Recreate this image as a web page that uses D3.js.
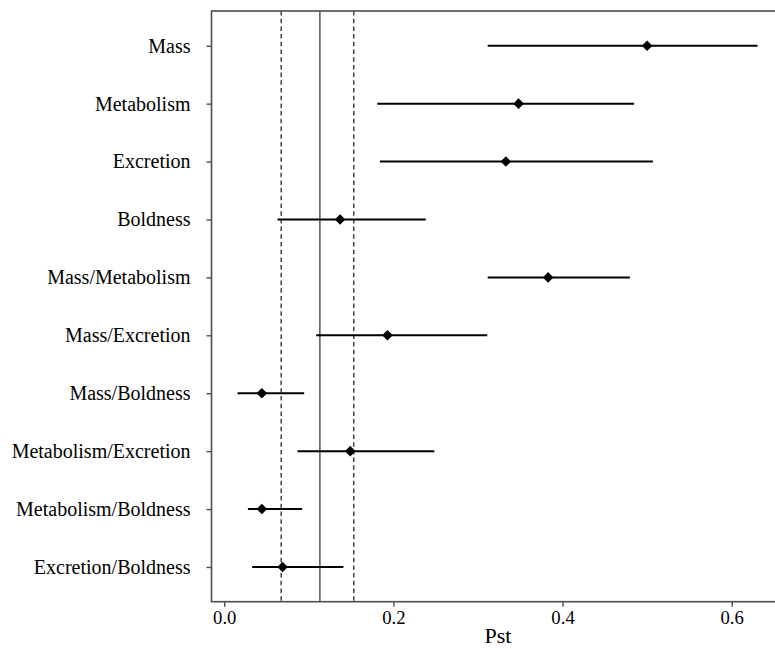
<!DOCTYPE html>
<html>
<head>
<meta charset="utf-8">
<script src="https://cdn.jsdelivr.net/npm/d3@7"></script>
<style>
  html, body { margin: 0; padding: 0; background: #fff; }
  svg { display: block; }
</style>
</head>
<body>
<script>
const traits = ["Mass", "Metabolism", "Excretion", "Boldness", "Mass/Metabolism",
  "Mass/Excretion", "Mass/Boldness", "Metabolism/Excretion", "Metabolism/Boldness", "Excretion/Boldness"];
const pst   = [0.500, 0.348, 0.333, 0.137, 0.383, 0.193, 0.0445, 0.149, 0.0445, 0.069];
const lower = [0.3115, 0.181, 0.184, 0.063, 0.3115, 0.1087, 0.0157, 0.0866, 0.028, 0.0331];
const upper = [0.6305, 0.4847, 0.5068, 0.2383, 0.4796, 0.311, 0.0945, 0.2485, 0.0921, 0.1409];
const fstMean = [0.1131];
const fstCI = [0.0673, 0.1532];
const xTicks = [0.0, 0.2, 0.4, 0.6];

const W = 775, H = 649;
const mLeft = 211.5, mTop = 11, mBottom = 601.7;
const lo = d3.min(lower), hi = d3.max(upper);
const pad = (hi - lo) * 0.05;

const svg = d3.select("body").append("svg").attr("width", W).attr("height", H);

const x = d3.scaleLinear().domain([lo - pad, hi + pad]).range([mLeft, mLeft + 572]);
const y = d3.scalePoint().domain(traits).range([mTop, mBottom]).padding(0.6);

const font = "'Liberation Serif', 'Times New Roman', serif";

// vertical reference lines
svg.selectAll("line.ci").data(fstCI).enter().append("line")
  .attr("x1", d => x(d)).attr("x2", d => x(d))
  .attr("y1", mTop).attr("y2", mBottom)
  .attr("stroke", "#000").attr("stroke-width", 1.1)
  .attr("stroke-dasharray", "4.5,3.2");
svg.selectAll("line.mean").data(fstMean).enter().append("line")
  .attr("x1", d => x(d)).attr("x2", d => x(d))
  .attr("y1", mTop).attr("y2", mBottom)
  .attr("stroke", "#555").attr("stroke-width", 1.5);

// error bars
const rows = traits.map((t, i) => ({t, p: pst[i], l: lower[i], u: upper[i]}));
svg.selectAll("line.err").data(rows).enter().append("line")
  .attr("x1", d => x(d.l)).attr("x2", d => x(d.u))
  .attr("y1", d => y(d.t)).attr("y2", d => y(d.t))
  .attr("stroke", "#000").attr("stroke-width", 2);

// diamonds
const diamond = d3.symbol().type(d3.symbolSquare).size(56);
svg.selectAll("path.pt").data(rows).enter().append("path")
  .attr("d", diamond)
  .attr("transform", d => `translate(${x(d.p)},${y(d.t)}) rotate(45)`)
  .attr("fill", "#000");

// panel frame (right side falls outside the image)
svg.append("rect")
  .attr("x", mLeft).attr("y", mTop)
  .attr("width", x.range()[1] - mLeft).attr("height", mBottom - mTop)
  .attr("fill", "none").attr("stroke", "#4d4d4d").attr("stroke-width", 1.6);

// x axis
const xAxis = svg.append("g").attr("transform", `translate(0,${mBottom})`)
  .call(d3.axisBottom(x).tickValues(xTicks).tickFormat(d3.format(".1f")).tickSize(5).tickPadding(4));
xAxis.select(".domain").remove();
xAxis.selectAll("line").attr("stroke", "#4d4d4d").attr("stroke-width", 1.4);
xAxis.selectAll("text").attr("font-family", font).attr("font-size", "18.7px").attr("fill", "#000");

// y axis
const yAxis = svg.append("g").attr("transform", `translate(${mLeft},0)`)
  .call(d3.axisLeft(y).tickSize(5).tickPadding(16));
yAxis.select(".domain").remove();
yAxis.selectAll("line").attr("stroke", "#4d4d4d").attr("stroke-width", 1.4);
yAxis.selectAll("text").attr("font-family", font).attr("font-size", "20px").attr("fill", "#000");

// x title
svg.append("text")
  .attr("x", (x(0) + x(0.6)) / 2 + 20).attr("y", 643)
  .attr("text-anchor", "middle")
  .attr("font-family", font).attr("font-size", "22px").attr("fill", "#000")
  .text("Pst");
</script>
</body>
</html>
